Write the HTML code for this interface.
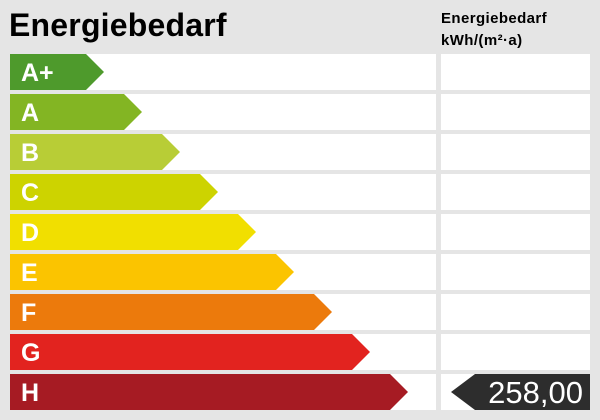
<html><head><style>
body{margin:0;width:600px;height:420px;background:#e5e5e5;font-family:"Liberation Sans",Arial,sans-serif;position:relative;overflow:hidden}
.t{position:absolute;left:9px;top:7px;font-size:32px;font-weight:bold;color:#000;letter-spacing:0.2px}
.h{position:absolute;left:441px;top:8px;font-size:15px;font-weight:bold;line-height:22px;letter-spacing:0.4px}
</style></head><body>
<div class="t">Energiebedarf</div>
<div class="h">Energiebedarf<br>kWh/(m²·a)</div>
<svg width="600" height="420" style="position:absolute;left:0;top:0" font-family="Liberation Sans, Arial, sans-serif" font-weight="bold" font-size="25" fill="#fff">
<g id="rows"></g>
<polygon points="451,392 475,374 590,374 590,410 475,410" fill="#2d2d2d"/>
<text x="583" y="403" font-weight="normal" font-size="31" text-anchor="end">258,00</text>
</svg>
<script>
var c=["#4e9a2c","#83b523","#b8cd36","#cdd300","#f1df00","#fbc400","#ec7a0c","#e2231f","#a61b23"],l=["A+","A","B","C","D","E","F","G","H"],s="";
for(var i=0;i<9;i++){var y=54+40*i,tip=104+38*i,b=tip-18;
s+='<rect x="10" y="'+y+'" width="426" height="36" fill="#fff"/><rect x="441" y="'+y+'" width="149" height="36" fill="#fff"/>';
s+='<polygon points="10,'+y+' '+b+','+y+' '+tip+','+(y+18)+' '+b+','+(y+36)+' 10,'+(y+36)+'" fill="'+c[i]+'"/>';
s+='<text x="21" y="'+(y+27)+'">'+l[i]+'</text>';}
document.getElementById('rows').innerHTML=s;
</script>
</body></html>
